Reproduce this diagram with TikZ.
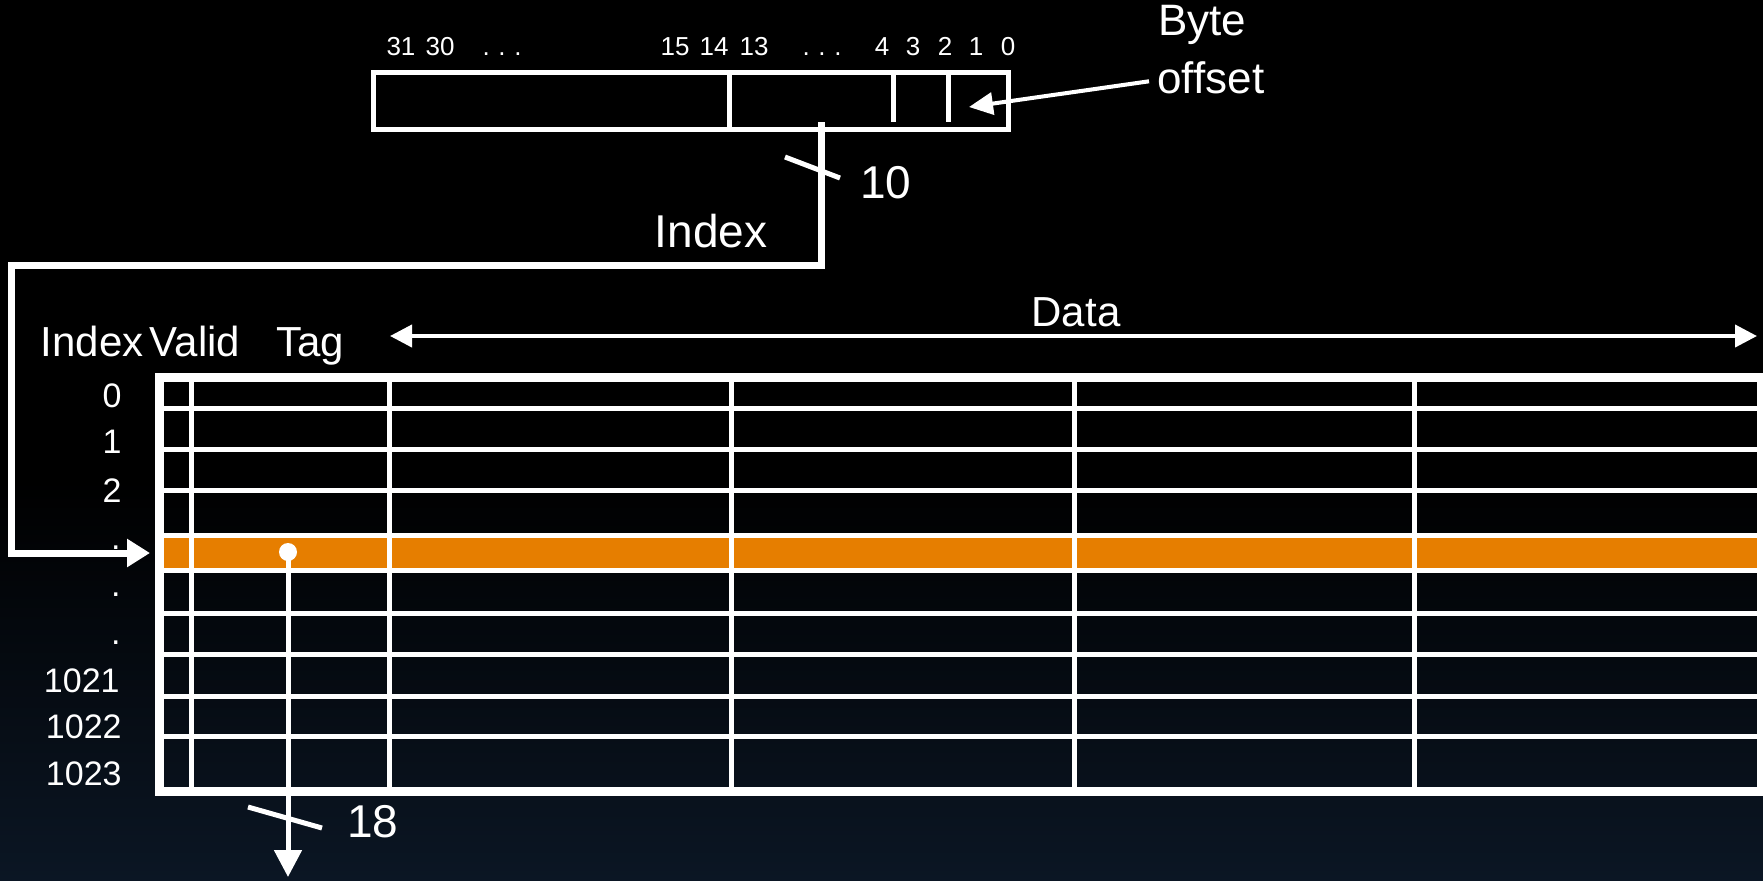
\documentclass[tikz,border=0pt]{standalone}
\usepackage{fontspec}
\setmainfont{Liberation Sans}
\usetikzlibrary{arrows.meta}
\definecolor{hl}{RGB}{230,126,0}
\definecolor{bgbot}{RGB}{11,22,36}
\begin{document}
\begin{tikzpicture}[x=0.5pt,y=-0.5pt,
  txt/.style={text=white,inner sep=0pt,anchor=base},
  fbit/.style={txt,font=\fontsize{13}{15}\selectfont},
  fbig/.style={txt,font=\fontsize{23}{27}\selectfont},
  fhead/.style={txt,font=\fontsize{21}{25}\selectfont},
  frow/.style={txt,anchor=base east,font=\fontsize{17}{20}\selectfont},
  wline/.style={draw=white,line width=2.5pt},
  bus/.style={draw=white,line width=3.5pt},
  gridline/.style={draw=white,line width=2.5pt},
  outerbox/.style={draw=white,line width=4.5pt},
  thinline/.style={draw=white,line width=2pt},
]
\useasboundingbox (0,0) rectangle (1763,880);
\fill[black] (0,0) rectangle (1763,880);
\shade[top color=black,bottom color=bgbot] (0,480) rectangle (1763,880);

% address word
\node[wline,minimum width=317.5pt,minimum height=28.5pt,inner sep=0pt,anchor=north west] (addr) at (371,70) {};
\draw[wline] (729,70) -- (729,127);
\draw[wline] (893,73) -- (893,122);
\draw[wline] (948,73) -- (948,122);

\node[fbit] (b31) at (401,55) {31};
\node[fbit] (b30) at (440,55) {30};
\node[fbit] (bd1) at (502,55) {.\,\,.\,\,.};
\node[fbit] (b15) at (675,55) {15};
\node[fbit] (b14) at (714,55) {14};
\node[fbit] (b13) at (754,55) {13};
\node[fbit] (bd2) at (822,55) {.\,\,.\,\,.};
\node[fbit] (b4) at (882,55) {4};
\node[fbit] (b3) at (913,55) {3};
\node[fbit] (b2) at (945,55) {2};
\node[fbit] (b1) at (976,55) {1};
\node[fbit] (b0) at (1008,55) {0};

% byte offset
\node[txt,anchor=base west,font=\fontsize{22}{26}\selectfont] (byte) at (1158,35) {Byte};
\node[txt,anchor=base west,font=\fontsize{22}{26}\selectfont] (offset) at (1157,93) {offset};
\coordinate (boTip) at (969,107);
\draw[thinline,-{Triangle[length=12pt,width=11pt]}] ([xshift=-4pt,yshift=-2pt]offset.west) -- (boTip);

% cache table
\fill[hl] (155,535) rectangle (1757,570);
\foreach \yy in {408,449,490,535,570,613,654,696,736}
  \draw[gridline] (155,\yy) -- (1757,\yy);
\foreach \xx in {191,389,731,1074,1414}
  \draw[gridline] (\xx,374) -- (\xx,787);
\node[outerbox,minimum width=801pt,minimum height=207pt,inner sep=0pt,anchor=north west] (cache) at (155,373) {};

% headers
\node[fhead] (data) at (1076,326) {Data};
\coordinate (dL) at (390,336);
\coordinate (dR) at (1757,336);
\draw[thinline,{Triangle[length=11pt,width=11pt]}-{Triangle[length=11pt,width=11pt]}] (dL) -- (dR);
\node[fhead] (hIndex) at (92,356) {Index};
\node[fhead] (hValid) at (195,356) {Valid};
\node[fhead] (hTag) at (310,356) {Tag};

% row labels
\node[frow] (r0) at (122,407) {0};
\node[frow] (r1) at (122,453) {1};
\node[frow] (r2) at (122,502) {2};
\node[frow] (rd1) at (121,549) {.};
\node[frow] (rd2) at (121,596) {.};
\node[frow] (rd3) at (121,644) {.};
\node[frow] (r1021) at (120,692) {1021};
\node[frow] (r1022) at (122,738) {1022};
\node[frow] (r1023) at (122,785) {1023};

% index bus
\coordinate (busTop) at (821,122);
\coordinate (busL) at (11,265);
\coordinate (rowIn) at (150,553);
\draw[bus,-{Triangle[length=11.5pt,width=13.5pt]}] (busTop) |- (busL) |- (rowIn);
\coordinate (s1a) at (785,157);
\coordinate (s1b) at (840,178);
\draw[wline] (s1a) -- (s1b);
\node[fbig,anchor=base west] (ten) at (860,198) {10};
\node[fbig] (idxlbl) at (711,247) {Index};

% tag output
\coordinate (tagDot) at (288,552);
\coordinate (tagOut) at (288,877);
\draw[gridline,-{Triangle[length=13.5pt,width=13.5pt]}] (tagDot) -- (tagOut);
\fill[white] (tagDot) circle (9);
\coordinate (s2a) at (248,807);
\coordinate (s2b) at (322,828);
\draw[wline] (s2a) -- (s2b);
\node[fbig,anchor=base west] (eighteen) at (347,837) {18};
\end{tikzpicture}
\end{document}
